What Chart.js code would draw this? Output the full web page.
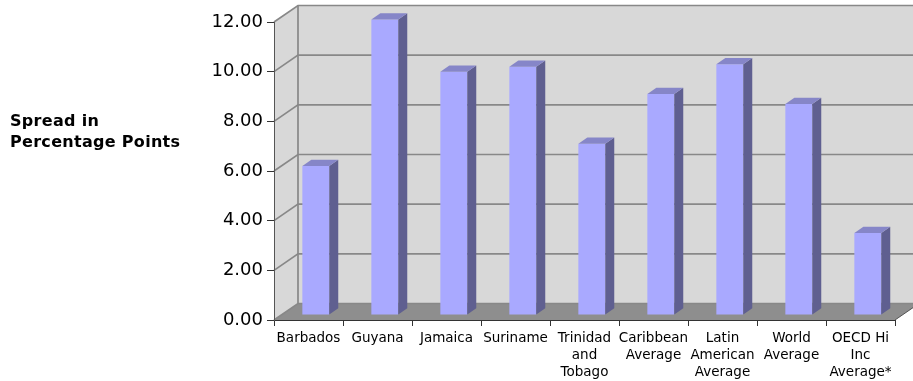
<!DOCTYPE html>
<html>
<head>
<meta charset="utf-8">
<script src="https://cdn.jsdelivr.net/npm/chart.js@4.4.1/dist/chart.umd.min.js"></script>
<style>
  body { margin: 0; background: #fff; }
  canvas { display: block; }
</style>
</head>
<body>
<canvas id="spreadChart" width="913" height="381"></canvas>
<script>
// values
const categories = [
    ["Barbados"], ["Guyana"], ["Jamaica"], ["Suriname"],
    ["Trinidad", "and", "Tobago"], ["Caribbean", "Average"],
    ["Latin", "American", "Average"], ["World", "Average"],
    ["OECD Hi", "Inc", "Average*"]
];
const spread = [6.0, 11.9, 9.8, 10.0, 6.9, 8.9, 10.1, 8.5, 3.3];
const yTicks = { min: 0, max: 12, step: 2 };
const axisTitle = ["Spread in", "Percentage Points"];

const FONT = "'DejaVu Sans', Verdana, sans-serif";

// 3d look: wall depth, bar plane offset, bar depth
const WALL = { dx: 24, dy: 16.5 };
const SHIFT = { dx: 7.3, dy: 5 };
const BAR = { dx: 9, dy: 6.2 };

const box3d = {
    id: "box3d",
    beforeDraw(chart) {
        const ctx = chart.ctx;
        const x = chart.scales.x, y = chart.scales.y;
        const l = x.left, r = x.right, t = y.top, b = y.bottom;

        ctx.save();
        ctx.fillStyle = "#fff";
        ctx.fillRect(0, 0, chart.width, chart.height);

        // back wall
        ctx.fillStyle = "#d8d8d8";
        ctx.fillRect(l + WALL.dx, t - WALL.dy, r - l, b - t);
        // left wall
        ctx.beginPath();
        ctx.moveTo(l, t);
        ctx.lineTo(l + WALL.dx, t - WALL.dy);
        ctx.lineTo(l + WALL.dx, b - WALL.dy);
        ctx.lineTo(l, b);
        ctx.closePath();
        ctx.fill();
        // floor
        ctx.fillStyle = "#8e8e8e";
        ctx.beginPath();
        ctx.moveTo(l, b);
        ctx.lineTo(l + WALL.dx, b - WALL.dy);
        ctx.lineTo(r + WALL.dx, b - WALL.dy);
        ctx.lineTo(r, b);
        ctx.closePath();
        ctx.fill();

        // grid lines on walls
        ctx.strokeStyle = "#888";
        ctx.lineWidth = 1.7;
        for (let v = yTicks.min; v <= yTicks.max; v += yTicks.step) {
            const py = y.getPixelForValue(v);
            ctx.beginPath();
            ctx.moveTo(l, py);
            ctx.lineTo(l + WALL.dx, py - WALL.dy);
            ctx.lineTo(r + WALL.dx, py - WALL.dy);
            ctx.stroke();
        }
        // corner and floor edge
        ctx.beginPath();
        ctx.moveTo(l + WALL.dx, t - WALL.dy);
        ctx.lineTo(l + WALL.dx, b - WALL.dy);
        ctx.stroke();
        ctx.strokeStyle = "#555";
        ctx.lineWidth = 1;
        ctx.beginPath();
        ctx.moveTo(r, b);
        ctx.lineTo(r + WALL.dx, b - WALL.dy);
        ctx.stroke();

        // horizontal axis title
        ctx.fillStyle = "#000";
        ctx.font = "bold 16px " + FONT;
        ctx.letterSpacing = "0.3px";
        ctx.textBaseline = "middle";
        ctx.fillText(axisTitle[0], 10, 122);
        ctx.fillText(axisTitle[1], 10, 143);
        ctx.restore();
    },
    beforeDatasetsDraw(chart) {
        chart.ctx.save();
        chart.ctx.translate(SHIFT.dx, -SHIFT.dy);
    },
    afterDatasetsDraw(chart) {
        const ctx = chart.ctx;
        chart.getDatasetMeta(0).data.forEach(bar => {
            const p = bar.getProps(["x", "y", "width", "base"], true);
            const left = p.x - p.width / 2, right = p.x + p.width / 2;
            // side
            ctx.fillStyle = "#5f5f90";
            ctx.beginPath();
            ctx.moveTo(right, p.y);
            ctx.lineTo(right + BAR.dx, p.y - BAR.dy);
            ctx.lineTo(right + BAR.dx, p.base - BAR.dy);
            ctx.lineTo(right, p.base);
            ctx.closePath();
            ctx.fill();
            // top
            ctx.fillStyle = "#8686c8";
            ctx.beginPath();
            ctx.moveTo(left, p.y);
            ctx.lineTo(left + BAR.dx, p.y - BAR.dy);
            ctx.lineTo(right + BAR.dx, p.y - BAR.dy);
            ctx.lineTo(right, p.y);
            ctx.closePath();
            ctx.fill();
        });
        ctx.restore();
    }
};

new Chart(document.getElementById("spreadChart"), {
    type: "bar",
    data: {
        labels: categories,
        datasets: [{
            data: spread,
            backgroundColor: "#a9a9ff",
            borderWidth: 0,
            categoryPercentage: 1,
            barPercentage: 0.39,
            clip: false
        }]
    },
    options: {
        responsive: false,
        animation: false,
        devicePixelRatio: 1,
        layout: { padding: { top: 22, right: 18, left: 0, bottom: 0 } },
        plugins: { legend: { display: false }, tooltip: { enabled: false } },
        scales: {
            x: {
                offset: true,
                grid: { offset: true, drawOnChartArea: false, tickLength: 6, color: "#333" },
                border: { color: "#333", width: 1 },
                ticks: {
                    color: "#000", padding: 4, maxRotation: 0, autoSkip: false,
                    font: { family: FONT, size: 13.5, lineHeight: 1.25 }
                },
                afterFit(scale) { scale.height = 61; }
            },
            y: {
                min: yTicks.min,
                max: yTicks.max,
                grid: { drawOnChartArea: false, tickLength: 7, color: "#333" },
                border: { color: "#555", width: 1 },
                ticks: {
                    stepSize: yTicks.step, color: "#000", padding: 4,
                    font: { family: FONT, size: 18 },
                    callback: v => v.toFixed(2)
                },
                afterFit(scale) { scale.width = 274; }
            }
        }
    },
    plugins: [box3d]
});
</script>
</body>
</html>
